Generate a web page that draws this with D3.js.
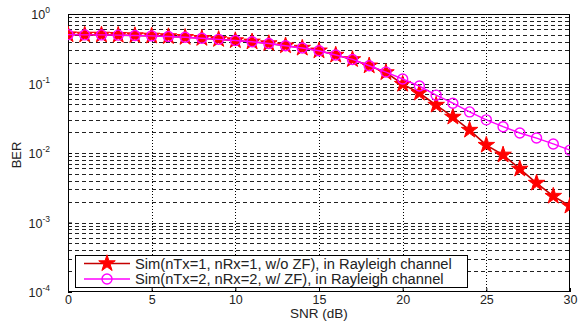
<!DOCTYPE html>
<html><head><meta charset="utf-8">
<script src="https://cdn.jsdelivr.net/npm/d3@7"></script>
<style>body{margin:0;background:#fff}svg{display:block;font-family:"Liberation Sans",Arial,sans-serif}</style>
</head><body>
<script>
const snr = [0,1,2,3,4,5,6,7,8,9,10,11,12,13,14,15,16,17,18,19,20,21,22,23,24,25,26,27,28,29,30];
const berNoZF = [0.505,0.50,0.50,0.496,0.49,0.484,0.475,0.462,0.447,0.432,0.415,0.398,0.376,0.350,0.324,0.296,0.257,0.222,0.180,0.144,0.098,0.073,0.049,0.033,0.0214,0.0130,0.0094,0.0059,0.0037,0.0024,0.00173];
const berZF = [0.505,0.50,0.50,0.496,0.49,0.484,0.475,0.462,0.447,0.432,0.415,0.398,0.376,0.350,0.324,0.296,0.257,0.222,0.180,0.146,0.116,0.092,0.068,0.052,0.039,0.030,0.0239,0.0194,0.0164,0.0135,0.0110];
const xTicks = [0,5,10,15,20,25,30];
const yExps = [0,-1,-2,-3,-4];
const legendLabels = ["Sim(nTx=1, nRx=1, w/o ZF), in Rayleigh channel","Sim(nTx=2, nRx=2, w/ ZF), in Rayleigh channel"];

const W=579,H=321, L=68,R=570,T=14,B=292;
const svg=d3.select("body").append("svg").attr("width",W).attr("height",H);
const x=d3.scaleLinear().domain([0,30]).range([L,R]);
const y=d3.scaleLog().domain([1e-4,1]).range([B,T]);

svg.append("defs").append("clipPath").attr("id","clip").append("rect").attr("x",L).attr("y",T).attr("width",R-L).attr("height",B-T);

// horizontal grid (minor + major)
const hVals=[];
for(let e=-4;e<0;e++){for(let m=1;m<10;m++){hVals.push(m*Math.pow(10,e));}}
svg.append("g").selectAll("line").data(hVals.filter(v=>v>1e-4)).join("line")
  .attr("x1",L).attr("x2",R).attr("y1",d=>Math.round(y(d))+0.5).attr("y2",d=>Math.round(y(d))+0.5)
  .attr("stroke","#222").attr("stroke-width",1).attr("stroke-dasharray","4,3");
// vertical grid
svg.append("g").selectAll("line").data(xTicks.filter(v=>v>0&&v<30)).join("line")
  .attr("x1",d=>Math.round(x(d))+0.5).attr("x2",d=>Math.round(x(d))+0.5).attr("y1",T).attr("y2",B)
  .attr("stroke","#000").attr("stroke-width",1).attr("stroke-dasharray","1,2");

// axes ticks
const xAxis=d3.axisBottom(x).tickValues(xTicks).tickSize(-4).tickPadding(3).tickFormat(d3.format("d"));
const gx=svg.append("g").attr("transform",`translate(0,${B})`).call(xAxis);
gx.select(".domain").remove();
gx.selectAll("text").attr("font-size",12.5).attr("fill","#222").attr("font-family","Liberation Sans, Arial");
gx.selectAll("line").attr("stroke","#000");

const gy=svg.append("g").attr("transform",`translate(${L},0)`).call(d3.axisLeft(y).tickValues(yExps.map(e=>Math.pow(10,e))).tickSize(-4).tickFormat(""));
gy.select(".domain").remove();
gy.selectAll("line").attr("stroke","#000");
const yl=svg.append("g").selectAll("text").data(yExps).join("text")
  .attr("x",L-18).attr("y",e=>y(Math.pow(10,e))+5).attr("text-anchor","end")
  .attr("font-size",12.5).attr("fill","#222");
yl.append("tspan").text("10");
yl.append("tspan").attr("dy",-6).attr("font-size",8.5).text(e=>e);

// box
svg.append("rect").attr("x",L+0.5).attr("y",T+0.5).attr("width",R-L-1).attr("height",B-T-1).attr("fill","none").attr("stroke","#000").attr("stroke-width",1);

const line=d3.line().x((d,i)=>x(snr[i])).y(d=>y(d));
const plot=svg.append("g").attr("clip-path","url(#clip)");
const star=d3.symbol().type(d3.symbolStar).size(85);

plot.append("path").datum(berNoZF).attr("d",line).attr("fill","none").attr("stroke","#c40000").attr("stroke-width",1.6);
plot.append("g").selectAll("path").data(berNoZF).join("path")
  .attr("d",star).attr("transform",(d,i)=>`translate(${x(snr[i])},${y(d)})`)
  .attr("fill","#ff0000").attr("stroke","#ff0000").attr("stroke-width",1);

plot.append("path").datum(berZF).attr("d",line).attr("fill","none").attr("stroke","#ff00ff").attr("stroke-width",1.4);
plot.append("g").selectAll("circle").data(berZF).join("circle")
  .attr("cx",(d,i)=>x(snr[i])).attr("cy",d=>y(d)).attr("r",5)
  .attr("fill","none").attr("stroke","#ff00ff").attr("stroke-width",1.4);

// legend
const lg=svg.append("g");
lg.append("rect").attr("x",75.5).attr("y",255.5).attr("width",392).attr("height",32).attr("fill","#fff").attr("stroke","#000");
const rows=[{c:"#c40000",m:"star"},{c:"#ff00ff",m:"circle"}];
rows.forEach((r,i)=>{
  const yy=263.5+i*15.5;
  lg.append("line").attr("x1",84).attr("x2",130).attr("y1",yy).attr("y2",yy).attr("stroke",r.c).attr("stroke-width",1.6);
  if(r.m==="star") lg.append("path").attr("d",star).attr("transform",`translate(107,${yy})`).attr("fill","#ff0000").attr("stroke","#ff0000");
  else lg.append("circle").attr("cx",107).attr("cy",yy).attr("r",5).attr("fill","none").attr("stroke","#ff00ff").attr("stroke-width",1.4);
  lg.append("text").attr("x",135).attr("y",yy+5).attr("font-size",14.7).attr("fill","#222").text(legendLabels[i]);
});

svg.append("text").attr("x",(L+R)/2).attr("y",318).attr("text-anchor","middle").attr("font-size",13.5).attr("fill","#222").text("SNR (dB)");
svg.append("text").attr("transform","translate(21,155) rotate(-90)").attr("text-anchor","middle").attr("font-size",13).attr("fill","#222").text("BER");
</script>
</body></html>
